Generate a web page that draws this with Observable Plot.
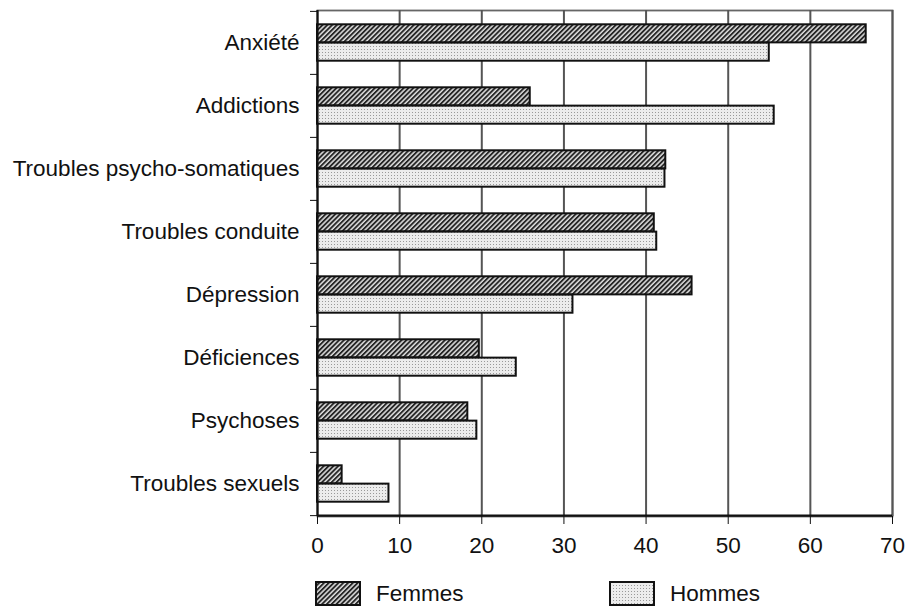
<!DOCTYPE html>
<html><head><meta charset="utf-8">
<script src="https://cdn.jsdelivr.net/npm/d3@7"></script>
<script src="https://cdn.jsdelivr.net/npm/@observablehq/plot@0.6"></script>
<style>
body{margin:0;background:#fff;font-family:"Liberation Sans",Arial,sans-serif;}
#legend{position:relative;width:907px;height:40px;font-size:22.5px;color:#111;}
.item{position:absolute;top:11px;display:flex;align-items:center;}
.item svg{display:block;}
.item span{margin-left:15px;line-height:25px;}
</style></head><body>
<div id="chart"></div>
<div id="legend"></div>
<script>
const categories = ["Anxiété","Addictions","Troubles psycho-somatiques","Troubles conduite","Dépression","Déficiences","Psychoses","Troubles sexuels"];
const femmes = [66.8, 25.9, 42.4, 41.0, 45.6, 19.7, 18.3, 3.0];
const hommes = [55.0, 55.6, 42.3, 41.3, 31.1, 24.2, 19.4, 8.7];
const seriesNames = ["Femmes","Hommes"];
const xTicks = [0,10,20,30,40,50,60,70];

const rows = categories.map((c,i)=>({cat:c, femmes:femmes[i], hommes:hommes[i]}));

const W=907,H=570,mT=10,mB=54,mL=317,mR=15;
const step=(H-mT-mB)/categories.length;
const pad=13.3, barH=(step-2*pad)/2;
const last = categories[categories.length-1];

const svg = Plot.plot({
  width:W,height:H,marginTop:mT,marginBottom:mB,marginLeft:mL,marginRight:mR,
  style:{fontFamily:"'Liberation Sans', Arial, sans-serif",fontSize:"22.5px",color:"#111",background:"#fff"},
  x:{domain:[0,70]},
  y:{domain:categories,padding:0},
  marks:[
    Plot.frame({stroke:"#666",strokeWidth:1.8}),
    Plot.gridX({ticks:xTicks.slice(1),stroke:"#555",strokeOpacity:1,strokeWidth:2}),
    Plot.barX(rows,{x:"femmes",y:"cat",fill:"url(#hatchF)",stroke:"#111",strokeWidth:2,insetTop:pad,insetBottom:step-pad-barH}),
    Plot.barX(rows,{x:"hommes",y:"cat",fill:"url(#dotsH)",stroke:"#111",strokeWidth:2,insetTop:pad+barH,insetBottom:pad}),
    Plot.ruleX([0],{stroke:"#111",strokeWidth:2.2}),
    Plot.ruleY([last],{dy:step/2,stroke:"#111",strokeWidth:2.2}),
    Plot.axisX({ticks:xTicks,tickSize:8,tickPadding:13,label:null,stroke:"#111"}),
    Plot.axisY({tickSize:0,tickPadding:18,label:null}),
    Plot.axisY({ticks:categories,tickSize:7,tickFormat:()=>"",dy:-step/2,label:null,stroke:"#111"}),
    Plot.axisY({ticks:[last],tickSize:7,tickFormat:()=>"",dy:step/2,label:null,stroke:"#111"})
  ]
});

const defs = `
<defs>
  <pattern id="hatchF" patternUnits="userSpaceOnUse" width="3.4" height="10" patternTransform="rotate(45)">
    <rect width="3.4" height="10" fill="#e0e0e0"/>
    <rect width="1.9" height="10" fill="#262626"/>
  </pattern>
  <pattern id="dotsH" patternUnits="userSpaceOnUse" width="3" height="3">
    <rect width="3" height="3" fill="#ececec"/>
    <rect x="1" y="1" width="1" height="1" fill="#999"/>
  </pattern>
</defs>`;
svg.insertAdjacentHTML("afterbegin", defs);
document.getElementById("chart").appendChild(svg);

const legend = document.getElementById("legend");
const fills = ["url(#hatchF)","url(#dotsH)"];
const lefts = [315, 609];
seriesNames.forEach((name,i)=>{
  const d = document.createElement("div");
  d.className="item";
  d.style.left = lefts[i]+"px";
  d.innerHTML = `<svg width="46" height="25"><rect x="1" y="1" width="44" height="23" fill="${fills[i]}" stroke="#111" stroke-width="2"/></svg><span>${name}</span>`;
  legend.appendChild(d);
});
</script>
</body></html>
